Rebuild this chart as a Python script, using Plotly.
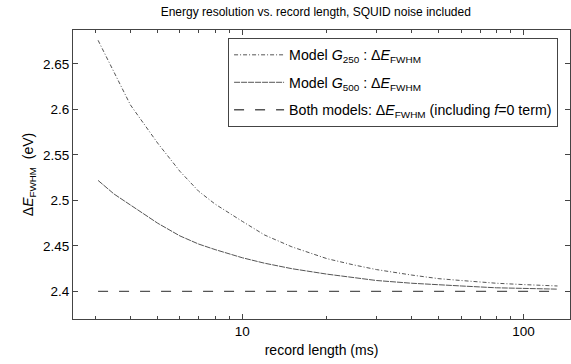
import plotly.graph_objects as go

# record length (ms)
record_ms = [3.07, 3.5, 4, 5, 6, 7, 8, 10, 12, 15, 20, 25, 30, 40, 50, 60, 80, 100, 132]
# Model G250 : dE_FWHM (eV)
g250 = [2.676, 2.640, 2.605, 2.563, 2.532, 2.510, 2.496, 2.477, 2.462, 2.449, 2.436,
        2.429, 2.424, 2.418, 2.414, 2.412, 2.409, 2.4075, 2.406]
# Model G500 : dE_FWHM (eV)
g500 = [2.522, 2.507, 2.495, 2.475, 2.461, 2.452, 2.446, 2.437, 2.431, 2.425, 2.419,
        2.415, 2.412, 2.409, 2.407, 2.406, 2.404, 2.403, 2.4025]
# Both models including f=0 term
both_x = [3.07, 132]
both_y = [2.4, 2.4]

y_ticks = [2.4, 2.45, 2.5, 2.55, 2.6, 2.65]
x_ticks = [10, 100]
x_minor = [3, 4, 5, 6, 7, 8, 9, 20, 30, 40, 50, 60, 70, 80, 90]

FONT = "Liberation Sans, Arial, sans-serif"
AX = "#444444"

fig = go.Figure()
fig.add_trace(go.Scatter(
    x=record_ms, y=g250, mode="lines", legendgroup="a",
    name="Model <i>G</i><sub>250</sub> : Δ<i>E</i><sub>FWHM</sub>",
    line=dict(color="#555555", width=1, dash="4px,2px,1px,2px")))
fig.add_trace(go.Scatter(
    x=record_ms, y=g500, mode="lines", legendgroup="b",
    name="Model <i>G</i><sub>500</sub> : Δ<i>E</i><sub>FWHM</sub>",
    line=dict(color="#555555", width=1, dash="6px,1px")))
fig.add_trace(go.Scatter(
    x=both_x, y=both_y, mode="lines", legendgroup="c",
    name="Both models: Δ<i>E</i><sub>FWHM</sub> (including <i>f</i>=0 term)",
    line=dict(color="#555555", width=1.3, dash="10px,11px")))

fig.update_layout(
    width=571, height=364,
    margin=dict(l=73, r=1, t=30, b=44.5),
    paper_bgcolor="white", plot_bgcolor="white",
    font=dict(family=FONT, size=14, color="black"),
    title=dict(text="Energy resolution vs. record length, SQUID noise included",
               x=0.553, xanchor="center", y=0.967, yanchor="middle",
               font=dict(family=FONT, size=12, color="black")),
    showlegend=True,
    legend=dict(x=0.312, y=0.972, xanchor="left", yanchor="top",
                bgcolor="white", bordercolor=AX, borderwidth=1,
                font=dict(family=FONT, size=14.2, color="black"),
                itemwidth=50, tracegroupgap=6),
    xaxis=dict(type="log", range=[0.398, 2.165],
               tickvals=x_ticks, ticktext=[str(v) for v in x_ticks],
               ticks="inside", ticklen=5, tickcolor=AX,
               tickfont=dict(family=FONT, size=13.5),
               minor=dict(tickvals=x_minor, ticks="inside", ticklen=3,
                          tickcolor=AX, showgrid=False),
               showline=True, linecolor=AX, linewidth=1, mirror="allticks",
               showgrid=False, zeroline=False,
               title=dict(text="record length (ms)", standoff=6,
                          font=dict(family=FONT, size=14))),
    yaxis=dict(range=[2.3697, 2.6873],
               tickvals=y_ticks, ticktext=[str(v) for v in y_ticks],
               ticks="inside", ticklen=5, tickcolor=AX,
               tickfont=dict(family=FONT, size=13.5),
               showline=True, linecolor=AX, linewidth=1, mirror="allticks",
               showgrid=False, zeroline=False,
               title=dict(text="Δ<i>E</i><sub>FWHM</sub>  (eV)", standoff=6,
                          font=dict(family=FONT, size=14))),
)

fig.write_html("out.html", config={"displayModeBar": False},
               post_script="document.body.style.margin='0';")
